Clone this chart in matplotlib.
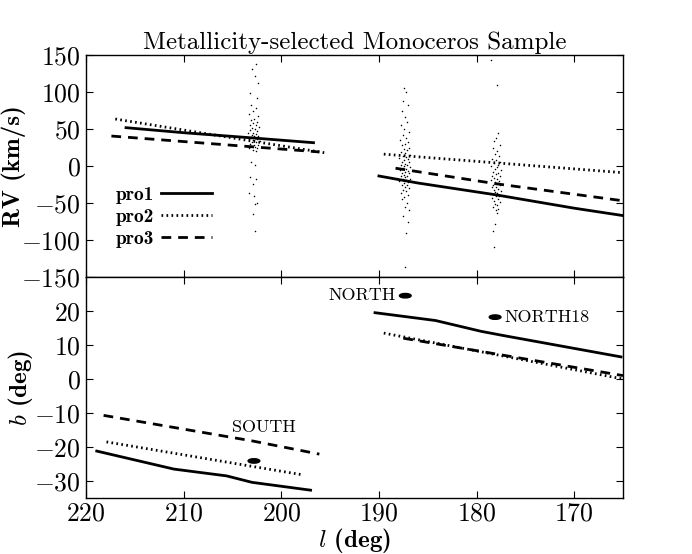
import numpy as np
import matplotlib
matplotlib.use("Agg")
import matplotlib.pyplot as plt
from matplotlib.patches import Ellipse
from matplotlib.ticker import FuncFormatter, MultipleLocator, FixedLocator

plt.rcParams['font.family'] = ['cmr10']
plt.rcParams['mathtext.fontset'] = 'cm'
plt.rcParams['axes.formatter.use_mathtext'] = True

# ---- model profiles (RV panel) ----
pro1_rv_l = [215.9, 210, 203, 196.7, np.nan, 190, 186, 178, 170, 165]
pro1_rv = [51.8, 45, 38, 31.5, np.nan, -13.5, -23, -39, -57, -67]
pro2_rv_l = [217, 195.6, np.nan, 189.5, 165]
pro2_rv = [63.5, 18, np.nan, 16, -9]
pro3_rv_l = [217.4, 196.1, np.nan, 188.3, 178, 165]
pro3_rv = [40.5, 19, np.nan, -3, -24, -47]

# ---- model profiles (b panel) ----
pro1_b_l = [218.9, 211, 205.6, 203, 197, np.nan, 190.4, 184.2, 179.5, 177.1, 165.2]
pro1_b = [-21.2, -26.5, -28.5, -30.4, -32.7, np.nan, 19.5, 17.2, 14, 12.7, 6.5]
pro2_b_l = [217.9, 197.8, np.nan, 189.5, 165]
pro2_b = [-18.5, -28.2, np.nan, 13.5, 0]
pro3_b_l = [218.2, 203, 196.1, np.nan, 187.5, 165]
pro3_b = [-10.7, -18.2, -22.1, np.nan, 12, 1]

# ---- fields ----
field_names = ['NORTH', 'NORTH18', 'SOUTH']
field_l = [187.3, 178.1, 202.8]
field_b = [24.5, 18.2, -24.1]

# ---- stars RV ----
south_l = [202.6, 203.0, 202.7, 202.4, 203.2, 202.5, 203.1, 202.6, 202.9, 203.3,
           202.4, 202.8, 203.1, 202.5, 202.9, 203.2, 202.6, 202.3, 203.0, 202.7,
           203.2, 202.5, 202.9, 203.4, 202.6, 203.0, 202.4, 202.8, 203.1, 202.7,
           203.3, 202.5, 202.9, 202.2, 203.0, 202.6, 203.2, 202.8, 202.4, 203.1,
           202.7, 203.3, 202.5, 202.9, 202.6, 203.1, 202.7, 203.2, 202.6, 202.9,
           203.3, 202.8, 202.5, 202.7, 202.9, 202.7]
south_rv = [138, 131, 122, 112, 99, 92, 83, 78, 74, 70,
            67, 64, 62, 60, 58, 56, 55, 53, 51, 50,
            48, 47, 45, 44, 43, 42, 41, 40, 39, 38,
            37, 36, 35, 34, 33, 32, 30, 29, 28, 27,
            26, 25, 24, 22, 20, 6, 2, -15, -18, -24,
            -36, -40, -50, -52, -65, -88]
north_l = [187.4, 187.2, 187.5, 187.0, 187.6, 187.3, 187.1, 187.7, 187.4, 186.9,
           187.5, 187.2, 187.8, 187.0, 187.3, 187.6, 186.9, 187.4, 187.1, 187.7,
           187.3, 186.8, 187.5, 187.2, 187.9, 187.0, 187.4, 187.6, 186.9, 187.3,
           187.7, 187.1, 187.4, 186.8, 187.5, 187.2, 187.8, 187.0, 187.3, 187.6,
           186.9, 187.4, 187.1, 187.7, 187.3, 186.8, 187.5, 187.2, 187.9, 187.0,
           187.4, 187.6, 187.1, 187.3, 186.9, 187.5, 187.2, 187.7, 187.0, 187.4,
           187.6, 187.1, 187.3, 186.9, 187.5, 187.0, 187.2, 187.3]
north_rv = [106, 100, 88, 82, 75, 66, 60, 55, 50, 46,
            42, 38, 35, 32, 30, 28, 25, 23, 21, 19,
            17, 15, 14, 12, 11, 9, 8, 6, 5, 3,
            2, 1, 0, -1, -3, -4, -5, -7, -8, -9,
            -10, -12, -13, -14, -15, -17, -18, -19, -20, -22,
            -23, -25, -26, -28, -30, -32, -34, -36, -39, -42,
            -45, -50, -55, -60, -68, -75, -90, -137]
north18_l = [178.5, 177.9, 177.8, 178.0, 178.2, 177.6, 178.3, 177.9, 178.1, 177.7,
             178.4, 178.0, 177.6, 178.2, 177.8, 178.5, 177.9, 178.1, 177.5, 178.3,
             177.8, 178.0, 178.4, 177.6, 178.2, 177.9, 178.5, 177.7, 178.1, 177.8,
             178.3, 177.6, 178.0, 178.4, 177.8, 178.2, 177.5, 178.1, 177.9, 178.3,
             177.7, 178.0, 178.4, 177.8, 178.2, 177.6, 178.1, 177.9, 178.3, 177.8,
             178.0, 177.9, 178.1, 178.3, 178.2]
north18_rv = [143, 110, 44, 38, 34, 28, 24, 20, 16, 13,
              10, 8, 6, 4, 2, 0, -2, -4, -6, -8,
              -10, -11, -13, -14, -16, -17, -19, -20, -22, -23,
              -25, -26, -28, -29, -31, -32, -34, -35, -37, -38,
              -40, -41, -43, -45, -47, -49, -51, -53, -55, -58,
              -60, -63, -78, -88, -110]

b_ticks = [-30, -20, -10, 0, 10, 20]

fig = plt.figure(figsize=(6.92, 5.54), dpi=100)
ax1 = fig.add_axes([0.1243, 0.5, 0.776, 0.4007])
ax2 = fig.add_axes([0.1243, 0.1011, 0.776, 0.3989])

fmt = FuncFormatter(lambda v, p: r'$%d$' % int(round(v)))

# top panel
for ll, rr in [(south_l, south_rv), (north_l, north_rv), (north18_l, north18_rv)]:
    ax1.scatter(ll, rr, s=1.2, c='black', linewidths=0)
ax1.plot(pro1_rv_l, pro1_rv, color='black', lw=2.0, ls='-', label='pro1')
ax1.plot(pro2_rv_l, pro2_rv, color='black', lw=2.0, ls=(0, (0.6, 1.2)), label='pro2')
ax1.plot(pro3_rv_l, pro3_rv, color='black', lw=2.0, ls=(0, (3.5, 2.5)), label='pro3')
ax1.set_xlim(220, 165)
ax1.set_ylim(-150, 150)
ax1.yaxis.set_major_locator(MultipleLocator(50))
ax1.yaxis.set_major_formatter(fmt)
ax1.xaxis.set_major_locator(MultipleLocator(10))
ax1.set_xticklabels([])
ax1.set_ylabel('RV (km/s)', fontsize=18, family='cmb10')
ax1.yaxis.set_label_coords(-0.112, 0.5)
ax1.set_title('Metallicity-selected Monoceros Sample', fontsize=18, pad=4)
leg = ax1.legend(loc='center left', bbox_to_anchor=(0.022, 0.27), frameon=False,
                 markerfirst=False, handlelength=2.6, handletextpad=0.4,
                 labelspacing=0.2, prop={'family': 'cmb10', 'size': 14})

# bottom panel
ax2.plot(pro1_b_l, pro1_b, color='black', lw=2.0, ls='-')
ax2.plot(pro2_b_l, pro2_b, color='black', lw=2.0, ls=(0, (0.6, 1.2)))
ax2.plot(pro3_b_l, pro3_b, color='black', lw=2.0, ls=(0, (3.5, 2.5)))
for fl, fb in zip(field_l, field_b):
    ax2.add_patch(Ellipse((fl, fb), width=1.2, height=1.3, color='black'))
ax2.text(field_l[0] + 1.0, field_b[0], field_names[0], ha='right', va='center', fontsize=13)
ax2.text(field_l[1] - 1.0, field_b[1], field_names[1], ha='left', va='center', fontsize=13)
ax2.text(field_l[2] - 1.0, field_b[2] + 9.8, field_names[2], ha='center', va='center', fontsize=13)
ax2.set_xlim(220, 165)
ax2.set_ylim(-35, 30)
ax2.yaxis.set_major_locator(FixedLocator(b_ticks))
ax2.yaxis.set_major_formatter(fmt)
ax2.xaxis.set_major_locator(MultipleLocator(10))
ax2.xaxis.set_major_formatter(fmt)
ax2.set_ylabel(r'$b$ (deg)', fontsize=18, family='cmb10')
ax2.yaxis.set_label_coords(-0.095, 0.5)
ax2.set_xlabel(r'$l$ (deg)', fontsize=18, family='cmb10', labelpad=0)

for ax in (ax1, ax2):
    ax.tick_params(direction='in', top=True, right=True, labelsize=18.5, length=5, width=0.8, pad=4)
    for s in ax.spines.values():
        s.set_linewidth(1.0)
ax2.tick_params(axis='x', pad=3)

fig.savefig('out.png', dpi=100)
